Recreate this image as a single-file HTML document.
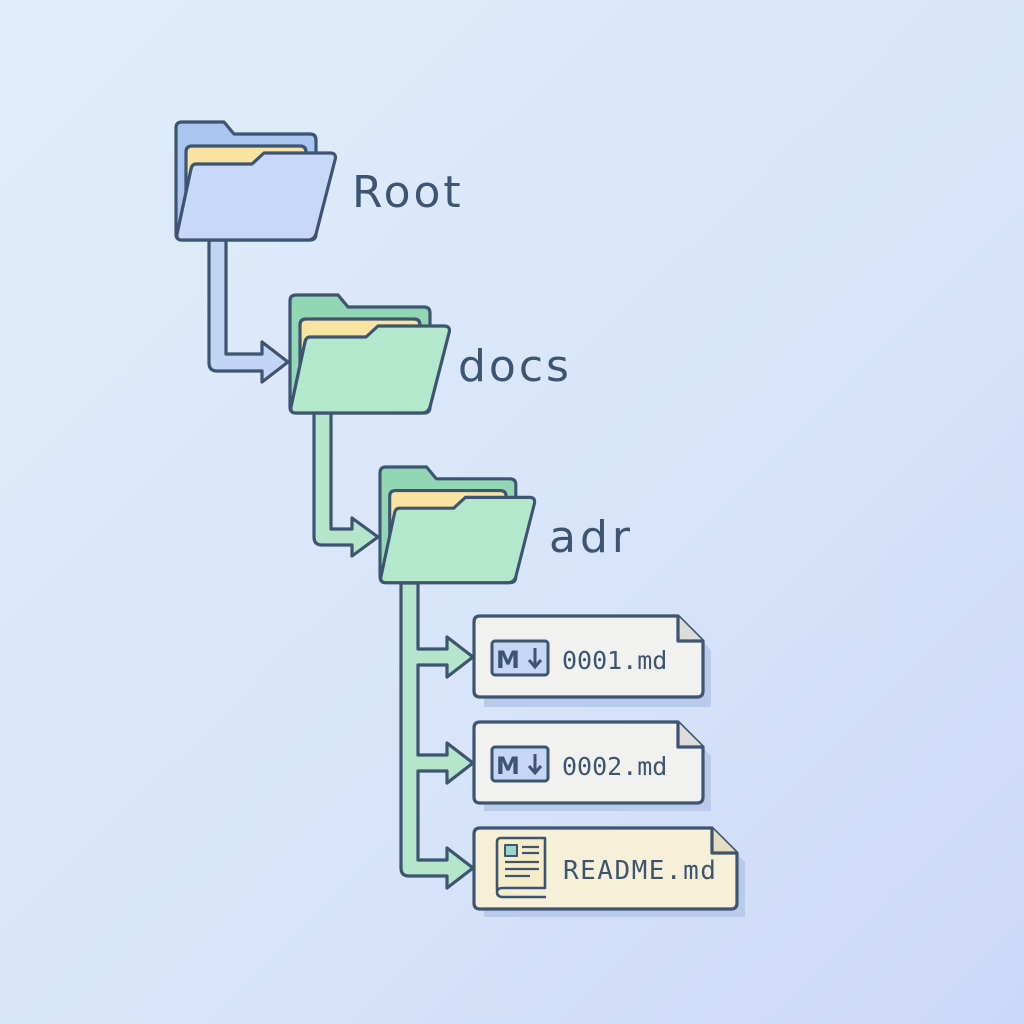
<!DOCTYPE html>
<html><head><meta charset="utf-8"><style>
html,body{margin:0;padding:0}
body{width:1024px;height:1024px;background:linear-gradient(135deg,#e0edfb 0%,#d8e5f9 55%,#ccd8f8 100%);overflow:hidden}
svg{display:block}
</style></head><body>
<svg width="1024" height="1024" viewBox="0 0 1024 1024" xmlns="http://www.w3.org/2000/svg">
<style>
.back{stroke:#3d5570;stroke-width:3.2;stroke-linejoin:round}
.front{stroke:#3d5570;stroke-width:3.2;stroke-linejoin:round}
#rootf .back{fill:#a9c5f0}#rootf .front{fill:#c8d9f7}
.gf .back{fill:#93d6b4}.gf .front{fill:#b3e8cd}
</style>
<g stroke="#3d5570" stroke-width="3.2" stroke-linejoin="round">
<path d="M209,240 V363 Q209,371 217,371 H262 V382 L288,362 L262,342 V354 H226 V240 Z" fill="#c3d5f6"/>
<path d="M314,410 V537 Q314,545 322,545 H352 V556 L378,537 L352,518 V529 H331 V410 Z" fill="#b5e6cc"/>
<path d="M418,583 V649 H447 V637 L473,657 L447,677 V665 H418 V755 H447 V743 L473,763 L447,783 V771 H418 V860 H447 V848 L473,868 L447,888 V876 H409 Q401,876 401,868 V583 Z" fill="#b5e6cc"/>
</g>
<g id="rootf" transform="translate(176,122)">
  <path d="M0,112 V6 Q0,0 6,0 H48 L58,12 H134 Q140,12 140,18 V112 Q140,118 134,118 H6 Q0,118 0,112Z" class="back"/>
  <path d="M10,112 V30 Q10,24 16,24 H124 Q130,24 130,30 V112 Z" fill="#f8e3a0" stroke="#3d5570" stroke-width="3.2"/>
  <path d="M20,42 H76 L88,31 H154 Q161,31 159,38 L140,112 Q138,118 132,118 H6 Q0,118 1,112 L15,47 Q16,42 20,42 Z" class="front"/>
</g>
<g class="gf" transform="translate(290,295)">
  <path d="M0,112 V6 Q0,0 6,0 H48 L58,12 H134 Q140,12 140,18 V112 Q140,118 134,118 H6 Q0,118 0,112Z" class="back"/>
  <path d="M10,112 V30 Q10,24 16,24 H124 Q130,24 130,30 V112 Z" fill="#f8e3a0" stroke="#3d5570" stroke-width="3.2"/>
  <path d="M20,42 H76 L88,31 H154 Q161,31 159,38 L140,112 Q138,118 132,118 H6 Q0,118 1,112 L15,47 Q16,42 20,42 Z" class="front"/>
</g>
<g class="gf" transform="translate(380,467) scale(0.97,0.98)">
  <path d="M0,112 V6 Q0,0 6,0 H48 L58,12 H134 Q140,12 140,18 V112 Q140,118 134,118 H6 Q0,118 0,112Z" class="back"/>
  <path d="M10,112 V30 Q10,24 16,24 H124 Q130,24 130,30 V112 Z" fill="#f8e3a0" stroke="#3d5570" stroke-width="3.2"/>
  <path d="M20,42 H76 L88,31 H154 Q161,31 159,38 L140,112 Q138,118 132,118 H6 Q0,118 1,112 L15,47 Q16,42 20,42 Z" class="front"/>
</g>
<g font-family="'DejaVu Sans','Liberation Sans',sans-serif" fill="#3d5570" font-size="44">
<text x="352" y="207" letter-spacing="3">Root</text>
<text x="458" y="381" letter-spacing="3">docs</text>
<text x="549" y="552" letter-spacing="4">adr</text>
</g>
<g stroke="#3d5570" stroke-width="3.2" stroke-linejoin="round">
  <path d="M484,626 H687 L711,650 V705 Q711,707 709,707 H484 Z" fill="#b9caec" stroke="none"/>
  <path d="M480,616 H678 L703,641 V691 Q703,697 697,697 H480 Q474,697 474,691 V622 Q474,616 480,616Z" fill="#f1f1ef"/>
  <path d="M678,616 V641 H703" fill="#dcdcdc"/>
  <path d="M484,732 H687 L711,756 V811 H484 Z" fill="#b9caec" stroke="none"/>
  <path d="M480,722 H678 L703,747 V797 Q703,803 697,803 H480 Q474,803 474,797 V728 Q474,722 480,722Z" fill="#f1f1ef"/>
  <path d="M678,722 V747 H703" fill="#dcdcdc"/>
  <path d="M484,838 H721 L745,862 V917 H484 Z" fill="#b9caec" stroke="none"/>
  <path d="M480,828 H712 L737,853 V903 Q737,909 731,909 H480 Q474,909 474,903 V834 Q474,828 480,828Z" fill="#f7f0d8"/>
  <path d="M712,828 V853 H737" fill="#e6dcc0"/>
  <rect x="492" y="641" width="56" height="34" rx="3" fill="#c6d7f5" stroke-width="3"/>
  <rect x="492" y="747" width="56" height="34" rx="3" fill="#c6d7f5" stroke-width="3"/>
  <path d="M497,890 V842 Q497,838 501,838 H545 V888 H503 Q497,888 497,892 Q497,897 503,897 H546" fill="#f7ecc8" stroke-width="2.6"/>
  <rect x="505" y="845" width="12" height="11" fill="#9fd4cc" stroke-width="2"/>
  <path d="M522,847 H539 M522,853 H539 M505,862 H539 M505,869 H539 M505,876 H530" stroke-width="2.2"/>
</g>
<g font-family="'DejaVu Sans','Liberation Sans',sans-serif" font-weight="bold" fill="#3d5570" font-size="24">
<text x="496" y="668">M</text><text x="496" y="774">M</text>
</g>
<g stroke="#3d5570" stroke-width="3" fill="none">
<path d="M535,648 V666 M529,660 L535,667 L541,660"/>
<path d="M535,754 V772 M529,766 L535,773 L541,766"/>
</g>
<g font-family="'DejaVu Sans Mono','Liberation Mono',monospace" fill="#3d5570" font-size="25">
<text x="562" y="669">0001.md</text>
<text x="562" y="775">0002.md</text>
<text x="563" y="879" font-size="26" letter-spacing="1.5">README.md</text>
</g>
</svg>
</body></html>
